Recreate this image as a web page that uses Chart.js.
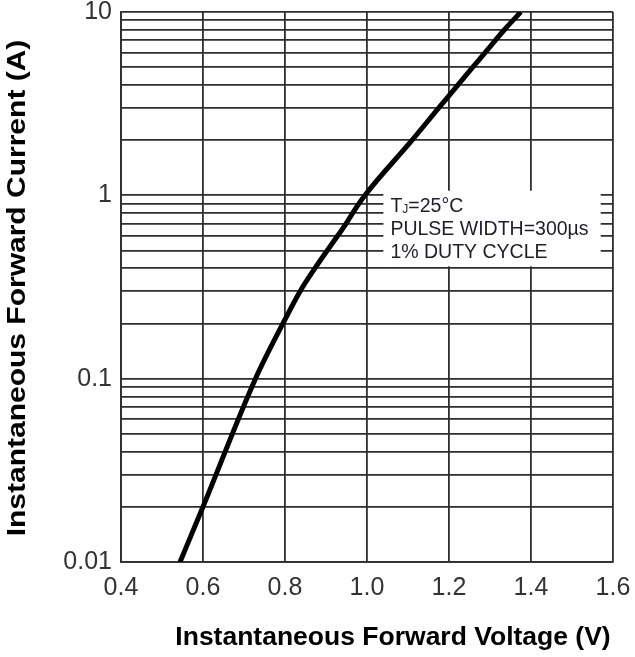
<!DOCTYPE html>
<html>
<head>
<meta charset="utf-8">
<script src="https://cdn.jsdelivr.net/npm/chart.js@4.4.1/dist/chart.umd.min.js"></script>
<style>
  body { margin: 0; background: #fff; }
  #wrap { width: 635px; height: 657px; }
</style>
</head>
<body>
<div id="wrap"><canvas id="ifChart"></canvas></div>
<script>
// Forward characteristic (volts, amps)
const voltage = [0.544, 0.6, 0.728, 0.795, 0.837, 0.873, 0.903, 0.928, 0.949, 0.965, 0.995, 1.11, 1.175, 1.222, 1.258, 1.288, 1.313, 1.335, 1.375];
const current = [0.01, 0.02, 0.1, 0.2, 0.3, 0.4, 0.5, 0.6, 0.7, 0.8, 1.0, 2, 3, 4, 5, 6, 7, 8, 10];

// Axis ticks
const xTicks = [0.4, 0.6, 0.8, 1.0, 1.2, 1.4, 1.6];
const yDecades = [0.01, 0.1, 1, 10];
const yMinors = [2, 3, 4, 5, 6, 7, 8, 9];

const noteLines = ['=25°C', 'PULSE WIDTH=300µs', '1% DUTY CYCLE'];

const yGrid = [];
yDecades.forEach((d, i) => {
    yGrid.push(d);
    if (i < yDecades.length - 1) yMinors.forEach(m => yGrid.push(+(d * m).toPrecision(3)));
});

const fam = 'Arial, "Liberation Sans", sans-serif';
const gridColor = '#2e2e2e';
const tickFont = { family: fam, size: 25 };

// white box with the test conditions
const notePlugin = {
    id: 'note',
    beforeDatasetsDraw(chart) {
        const { ctx, scales: { x, y } } = chart;
        const left = x.getPixelForValue(1.04);
        const right = x.getPixelForValue(1.57);
        const top = y.getPixelForValue(1.06);
        const bottom = y.getPixelForValue(0.41);
        ctx.save();
        ctx.fillStyle = '#fff';
        ctx.fillRect(left, top, right - left, bottom - top);
        ctx.fillStyle = '#1e1e2a';
        ctx.textBaseline = 'middle';
        ctx.textAlign = 'left';
        const tx = left + 7;
        ctx.font = '19.5px ' + fam;
        ctx.fillText('T', tx, top + 16);
        const tw = ctx.measureText('T').width;
        ctx.font = '12px ' + fam;
        ctx.fillText('J', tx + tw, top + 19);
        const jw = ctx.measureText('J').width;
        ctx.font = '19.5px ' + fam;
        ctx.fillText(noteLines[0], tx + tw + jw, top + 16);
        ctx.fillText(noteLines[1], tx, top + 39);
        ctx.fillText(noteLines[2], tx, top + 62);
        ctx.restore();
    }
};

// axis titles
const titlePlugin = {
    id: 'axisTitles',
    afterDraw(chart) {
        const { ctx } = chart;
        ctx.save();
        ctx.fillStyle = '#000';
        ctx.textAlign = 'center';
        ctx.textBaseline = 'middle';
        ctx.font = 'bold 26.5px ' + fam;
        ctx.fillText('Instantaneous Forward Voltage (V)', 393, 638);
        ctx.translate(18, 288);
        ctx.rotate(-Math.PI / 2);
        ctx.scale(1.2, 1);
        ctx.font = 'bold 25px ' + fam;
        ctx.fillText('Instantaneous Forward Current (A)', 0, 0);
        ctx.restore();
    }
};

new Chart(document.getElementById('ifChart'), {
    type: 'line',
    data: {
        datasets: [{
            data: voltage.map((v, i) => ({ x: v, y: current[i] })),
            borderColor: '#000',
            borderWidth: 5,
            pointRadius: 0,
            cubicInterpolationMode: 'monotone',
            fill: false
        }]
    },
    options: {
        responsive: true,
        maintainAspectRatio: false,
        animation: false,
        layout: { padding: { left: 0, top: 12, right: 22, bottom: 0 } },
        plugins: { legend: { display: false }, tooltip: { enabled: false } },
        scales: {
            x: {
                type: 'linear',
                min: 0.4,
                max: 1.6,
                afterBuildTicks: s => { s.ticks = xTicks.map(v => ({ value: v })); },
                afterFit: s => { s.height = 95; s.paddingLeft = 0; s.paddingRight = 0; },
                ticks: {
                    autoSkip: false,
                    maxRotation: 0,
                    padding: 11,
                    color: '#333',
                    font: tickFont,
                    callback: v => v.toFixed(1)
                },
                grid: { color: gridColor, lineWidth: 1.8, drawTicks: false },
                border: { color: gridColor, width: 1.8 }
            },
            y: {
                type: 'logarithmic',
                min: 0.01,
                max: 10,
                afterBuildTicks: s => { s.ticks = yGrid.map(v => ({ value: v })); },
                afterFit: s => { s.width = 121; s.paddingTop = 0; s.paddingBottom = 0; },
                ticks: {
                    autoSkip: false,
                    padding: 9,
                    color: '#333',
                    font: tickFont,
                    callback: v => yDecades.includes(v) ? String(v) : ''
                },
                grid: { color: gridColor, lineWidth: 1.8, drawTicks: false },
                border: { color: gridColor, width: 1.8 }
            }
        }
    },
    plugins: [notePlugin, titlePlugin]
});
</script>
</body>
</html>
